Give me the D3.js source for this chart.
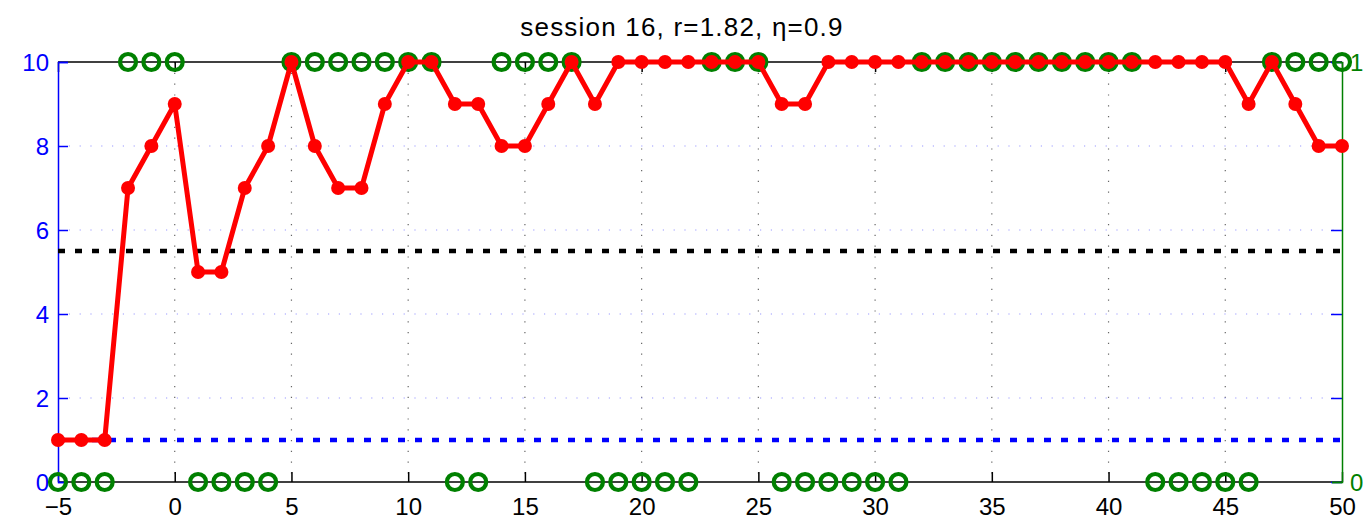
<!DOCTYPE html>
<html><head><meta charset="utf-8">
<script src="https://cdn.jsdelivr.net/npm/d3@7"></script>
<style>body{margin:0;background:#fff}svg{display:block}text{font-family:"Liberation Sans",Arial,sans-serif}</style>
</head><body><svg id="c" width="1363" height="520"></svg>
<script>
const trials = d3.range(-5, 51);
const rating = [1,1,1,7,8,9,5,5,7,8,10,8,7,7,9,10,10,9,9,8,8,9,10,9,10,10,10,10,10,10,10,9,9,10,10,10,10,10,10,10,10,10,10,10,10,10,10,10,10,10,10,9,10,9,8,8];
const outcome = [0,0,0,1,1,1,0,0,0,0,1,1,1,1,1,1,1,0,0,1,1,1,1,0,0,0,0,0,1,1,1,0,0,0,0,0,0,1,1,1,1,1,1,1,1,1,1,0,0,0,0,0,1,1,1,1];
const xTicks = [-5,0,5,10,15,20,25,30,35,40,45,50];
const yTicks = [0,2,4,6,8,10];
const yRightTicks = [0,1];
const refBlack = 5.5, refBlue = 1;
const title = "session 16, r=1.82, η=0.9";

const L=58, R=1342, T=62, B=482;
const svg = d3.select("#c");
const x = d3.scaleLinear().domain([-5,50]).range([L,R]);
const y = d3.scaleLinear().domain([0,10]).range([B,T]);
const y2 = d3.scaleLinear().domain([0,1]).range([B,T]);

// grids
svg.append("g").selectAll("line").data(xTicks.filter(d=>d>-5&&d<50)).join("line")
  .attr("x1",d=>x(d)).attr("x2",d=>x(d)).attr("y1",T).attr("y2",B)
  .attr("stroke","#666").attr("stroke-width",1.2).attr("stroke-dasharray","1.2,9.6");
svg.append("g").selectAll("line").data(yTicks.filter(d=>d>0&&d<10)).join("line")
  .attr("x1",L).attr("x2",R).attr("y1",d=>y(d)).attr("y2",d=>y(d))
  .attr("stroke","#9a9aff").attr("stroke-width",1.2).attr("stroke-dasharray","1.2,9.6");

// axes box lines
svg.append("line").attr("x1",L).attr("x2",R).attr("y1",T).attr("y2",T).attr("stroke","#000").attr("stroke-width",1.5);
svg.append("line").attr("x1",L).attr("x2",R).attr("y1",B).attr("y2",B).attr("stroke","#000").attr("stroke-width",1.5);

// x axis
const gx = svg.append("g").attr("transform",`translate(0,${B})`)
  .call(d3.axisBottom(x).tickValues(xTicks).tickSize(-10).tickPadding(14).tickFormat(d=>d<0?"\u2212"+Math.abs(d):d));
gx.select(".domain").remove();
gx.selectAll("line").attr("stroke","#000").attr("stroke-width",1.5);
gx.selectAll("text").attr("font-size",24).attr("fill","#000").attr("dy","0.71em").attr("y",16);
const gxt = svg.append("g").attr("transform",`translate(0,${T})`)
  .call(d3.axisTop(x).tickValues(xTicks).tickSize(-10).tickFormat(""));
gxt.select(".domain").remove();
gxt.selectAll("line").attr("stroke","#000").attr("stroke-width",1.5);

// left y axis
const gy = svg.append("g").attr("transform",`translate(${L},0)`)
  .call(d3.axisLeft(y).tickValues(yTicks).tickSize(-10).tickPadding(6));
gy.select(".domain").attr("stroke","#0000ff").attr("stroke-width",1.5);
gy.selectAll("line").attr("stroke","#0000ff").attr("stroke-width",1.5);
gy.selectAll("text").attr("font-size",24).attr("fill","#0000ff").attr("x",-9).attr("dy","0.36em");
const gyr = svg.append("g").attr("transform",`translate(${R},0)`)
  .call(d3.axisRight(y).tickValues(yTicks).tickSize(-11).tickFormat(""));
gyr.select(".domain").remove();
gyr.selectAll("line").attr("stroke","#0000ff").attr("stroke-width",1.5);

// right y axis
const gy2 = svg.append("g").attr("transform",`translate(${R},0)`)
  .call(d3.axisRight(y2).tickValues(yRightTicks).tickSize(-10).tickPadding(4));
gy2.select(".domain").attr("stroke","#008000").attr("stroke-width",1.5);
gy2.selectAll("line").attr("stroke","#008000").attr("stroke-width",1.5);
gy2.selectAll("text").attr("font-size",24).attr("fill","#008000").attr("x",8).attr("dy","0.36em");

// reference lines
svg.append("line").attr("x1",x(-5)).attr("x2",x(50)).attr("y1",y(refBlack)).attr("y2",y(refBlack))
  .attr("stroke","#000").attr("stroke-width",4.5).attr("stroke-dasharray","7,10");
svg.append("line").attr("x1",x(-5)).attr("x2",x(50)).attr("y1",y(refBlue)).attr("y2",y(refBlue))
  .attr("stroke","#0000ff").attr("stroke-width",4.5).attr("stroke-dasharray","7,10");

// green outcome circles
svg.append("g").selectAll("circle").data(trials).join("circle")
  .attr("cx",d=>x(d)).attr("cy",(d,i)=>y2(outcome[i])).attr("r",8)
  .attr("fill","none").attr("stroke","#008000").attr("stroke-width",4.2);

// red line
const line = d3.line().x(d=>x(d)).y((d,i)=>y(rating[i]));
svg.append("path").datum(trials).attr("d",line).attr("fill","none")
  .attr("stroke","#ff0000").attr("stroke-width",5).attr("stroke-linejoin","round");
svg.append("g").selectAll("circle").data(trials).join("circle")
  .attr("cx",d=>x(d)).attr("cy",(d,i)=>y(rating[i])).attr("r",7).attr("fill","#ff0000");

// title
svg.append("text").attr("x",682).attr("y",36).attr("text-anchor","middle")
  .attr("font-size",26).attr("letter-spacing",1.2).attr("fill","#000").text(title);
</script></body></html>
